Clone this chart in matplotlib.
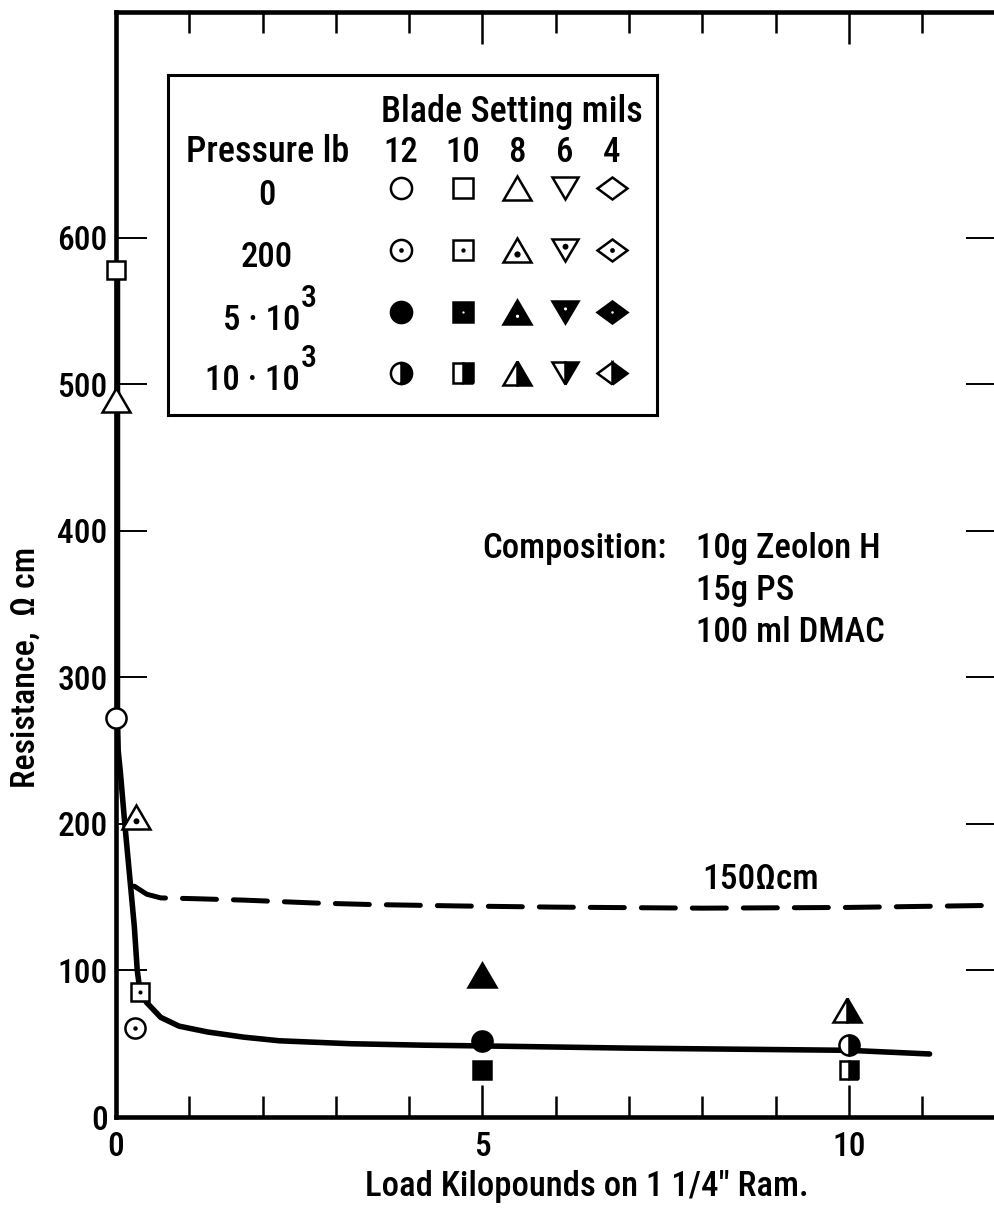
import matplotlib
matplotlib.use("Agg")
import matplotlib.pyplot as plt
from matplotlib.markers import MarkerStyle
from matplotlib.transforms import Affine2D

plt.rcParams['font.family'] = ['Roboto Condensed', 'Archivo Narrow', 'Roboto', 'DejaVu Sans']
plt.rcParams['font.weight'] = 'medium'
plt.rcParams['axes.labelweight'] = 'medium'

curve_x = [0.02, 0.02, 0.02, 0.03, 0.06, 0.12, 0.2, 0.25, 0.29, 0.33, 0.42, 0.61,
           0.86, 1.25, 1.74, 2.23, 3.2, 4.2, 5.0, 7.0, 10.0, 11.1]
curve_y = [578, 489, 272, 250, 235, 200, 157, 130, 100, 85, 78, 68,
           62, 58, 54.5, 52, 50, 49, 48.5, 47, 45.5, 43]

# 150 ohm cm reference line
dash_x = [0.25, 0.42, 0.61, 1.05, 1.74, 2.72, 3.46, 4.68, 6.0, 8.0, 10.0, 12.1]
dash_y = [157.5, 152, 149.5, 149, 148, 146, 145, 144, 143.2, 142.5, 143, 144.5]

# measured points: load (kilopounds), resistance, blade setting (mils)
p0_x = [0.0, 0.0, 0.0]
p0_y = [272, 578, 489]
p0_blade = [12, 10, 8]

p200_x = [0.26, 0.33, 0.27]
p200_y = [61, 85, 205]
p200_blade = [12, 10, 8]

p5k_x = [5.0, 5.0, 5.0]
p5k_y = [52, 32, 97]
p5k_blade = [12, 10, 8]

p10k_x = [10.0, 10.0, 9.97]
p10k_y = [49, 32, 73]
p10k_blade = [12, 10, 8]

blades = [12, 10, 8, 6, 4]
pressure_labels = ['0', '200', '5 \u00b7 10', '10 \u00b7 10']

shape = {12: 'o', 10: 's', 8: '^', 6: 'v', 4: 'D'}
size = {12: 14.5, 10: 13.5, 8: 19.5, 6: 18.5, 4: 15.0}
squash = {12: 1.0, 10: 1.0, 8: 0.85, 6: 0.85, 4: 0.68}
dot_shift = {12: 0.0, 10: 0.0, 8: -0.14, 6: 0.14, 4: 0.0}


def mstyle(b, fill='full'):
    return MarkerStyle(shape[b], fillstyle=fill,
                       transform=Affine2D().scale(1.0, squash[b]))


def dot(b, scale):
    return MarkerStyle('o', transform=Affine2D().scale(scale).translate(0, dot_shift[b]))


def draw(axx, x, y, b, kind, scale=1.0, z=5):
    ms = size[b] * scale
    common = dict(ls='none', clip_on=False, zorder=z, markeredgecolor='black',
                  markeredgewidth=1.8)
    if kind == 'open' or kind == 'dot':
        axx.plot([x], [y], marker=mstyle(b), markersize=ms, markerfacecolor='white', **common)
        if kind == 'dot':
            axx.plot([x], [y], marker=dot(b, 0.22), markersize=ms, ls='none', clip_on=False,
                     zorder=z + 1, color='black', markeredgewidth=0)
    elif kind == 'full':
        axx.plot([x], [y], marker=mstyle(b), markersize=ms, markerfacecolor='black', **common)
    else:
        axx.plot([x], [y], marker=mstyle(b, 'right'), markersize=ms, markerfacecolor='black',
                 markerfacecoloralt='white', **common)


fig = plt.figure(figsize=(9.94, 12.08), dpi=100)
ax = fig.add_axes([116 / 994, 1 - 1117 / 1208, 881 / 994, 1105 / 1208])
ax.set_xlim(0, 12.02)
ax.set_ylim(0, 754)

ax.plot(curve_x, curve_y, color='black', lw=4.0, solid_capstyle='round', clip_on=False, zorder=3)
ax.plot(dash_x, dash_y, color='black', lw=3.6, dashes=(6.8, 3.4), dash_capstyle='round', zorder=3)

for xs, ys, bs, kind in [(p0_x, p0_y, p0_blade, 'open'), (p200_x, p200_y, p200_blade, 'dot'),
                         (p5k_x, p5k_y, p5k_blade, 'full'), (p10k_x, p10k_y, p10k_blade, 'half')]:
    for x, y, b in zip(xs, ys, bs):
        draw(ax, x, y, b, kind)

for s in ['left', 'bottom', 'top']:
    ax.spines[s].set_linewidth(3.3)
ax.spines['right'].set_visible(False)

ax.set_xticks([0, 5, 10])
ax.set_xticklabels(['0', '5', '10'])
ax.set_xticks([1, 2, 3, 4, 6, 7, 8, 9, 11], minor=True)
ax.set_yticks([0, 100, 200, 300, 400, 500, 600])
ax.tick_params(axis='x', which='major', direction='in', length=23, width=1.8,
               top=True, labelsize=24, pad=10)
ax.tick_params(axis='x', which='minor', direction='in', length=15, width=1.8, top=True)
ax.tick_params(axis='y', direction='in', length=22, width=1.4, right=True,
               labelsize=24, pad=6)

ax.set_xlabel('Load Kilopounds on 1 1/4" Ram.', fontsize=25)
ax.xaxis.set_label_coords(0.535, -0.048)
ax.set_ylabel('Resistance,  \u03a9 cm', fontsize=24.5)
ax.yaxis.set_label_coords(-0.084, 0.407)

ax.text(8.79, 162, '150\u03a9cm', fontsize=25.5, ha='center', va='center')
ax.text(5.0, 388, 'Composition:', fontsize=25, ha='left', va='center')
for i, line in enumerate(['10g Zeolon H', '15g PS', '100 ml DMAC']):
    ax.text(7.92, 388 - 28.7 * i, line, fontsize=25, ha='left', va='center')

# key box, laid out in picture pixels
key = ax.inset_axes([(168 - 116) / 881, (1117 - 415) / 1105, 489 / 881, 340 / 1105])
key.set_xlim(168, 657)
key.set_ylim(415, 75)
key.set_xticks([])
key.set_yticks([])
for s in key.spines.values():
    s.set_linewidth(2.2)

key.text(512, 112, 'Blade Setting mils', fontsize=26, ha='center', va='center')
key.text(268, 152, 'Pressure lb', fontsize=26, ha='center', va='center')
col_x = [401, 463, 517, 565, 612]
row_y = [188, 250, 312, 373]
label_y = [195, 257, 320, 380]
for cx, b in zip(col_x, blades):
    key.text(cx, 152, str(b), fontsize=25, ha='center', va='center')
for i, (lab, ly) in enumerate(zip(pressure_labels, label_y)):
    key.text(267 if i < 2 else 300, ly, lab, fontsize=25,
             ha='center' if i < 2 else 'right', va='center')
    if i >= 2:
        key.text(301, ly - 22, '3', fontsize=23, ha='left', va='center')

kinds = ['open', 'dot', 'full', 'half']
for ry, kind in zip(row_y, kinds):
    for cx, b in zip(col_x, blades):
        draw(key, cx, ry, b, kind, scale=1.05, z=5)
        if kind == 'full' and b != 12:
            key.plot([cx], [ry], marker=dot(b, 0.12), markersize=size[b], ls='none',
                     color='white', markeredgewidth=0, zorder=7, clip_on=False)

fig.savefig('out.png', dpi=100)
